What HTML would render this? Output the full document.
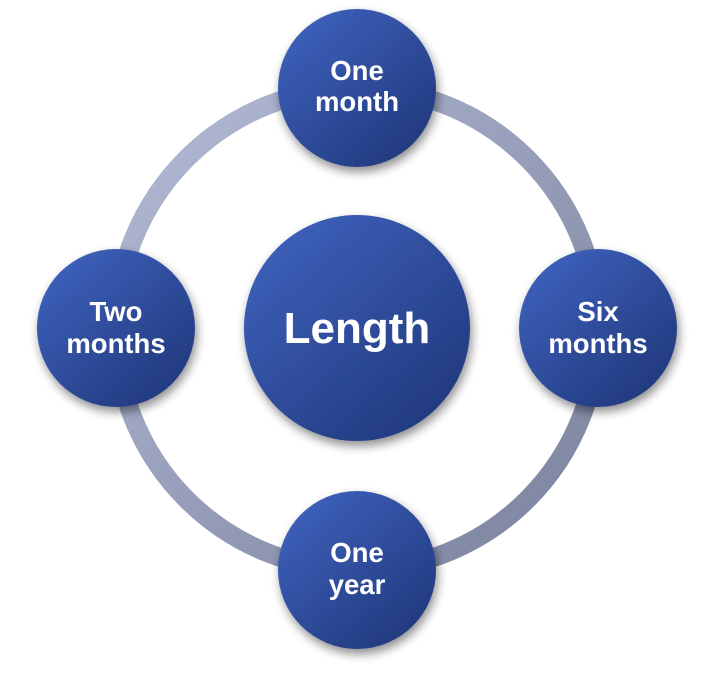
<!DOCTYPE html>
<html><head><style>
html,body{margin:0;padding:0;background:#fff;width:715px;height:674px;overflow:hidden}
</style></head><body>
<svg width="715" height="674" viewBox="0 0 715 674" xmlns="http://www.w3.org/2000/svg">
<defs>
<linearGradient id="ring" x1="0" y1="0" x2="1" y2="1">
<stop offset="0" stop-color="#b3bbd6"/><stop offset="1" stop-color="#7a819c"/>
</linearGradient>
<linearGradient id="ball" x1="0.15" y1="0.1" x2="0.85" y2="0.9">
<stop offset="0" stop-color="#3c5fb9"/><stop offset="1" stop-color="#223a7e"/>
</linearGradient>
<filter id="sh" x="-30%" y="-30%" width="160%" height="160%">
<feGaussianBlur in="SourceAlpha" stdDeviation="5"/><feOffset dx="2" dy="5"/>
<feComponentTransfer><feFuncA type="linear" slope="0.45"/></feComponentTransfer>
<feMerge><feMergeNode/><feMergeNode in="SourceGraphic"/></feMerge>
</filter>
</defs>
<circle cx="357" cy="329" r="241" fill="none" stroke="url(#ring)" stroke-width="19"/>
<g filter="url(#sh)" fill="url(#ball)">
<circle cx="357" cy="328" r="113"/>
<circle cx="357" cy="88" r="79"/>
<circle cx="357" cy="570" r="79"/>
<circle cx="116" cy="328" r="79"/>
<circle cx="598" cy="328" r="79"/>
</g>
<g fill="#fff" font-family="Liberation Sans, sans-serif" font-weight="bold" text-anchor="middle">
<text x="357" y="343" font-size="44">Length</text>
<g font-size="27.5">
<text x="357" y="80">One</text><text x="357" y="111">month</text>
<text x="357" y="562">One</text><text x="357" y="594">year</text>
<text x="116" y="321">Two</text><text x="116" y="353">months</text>
<text x="598" y="321">Six</text><text x="598" y="353">months</text>
</g></g>
</svg>
</body></html>
